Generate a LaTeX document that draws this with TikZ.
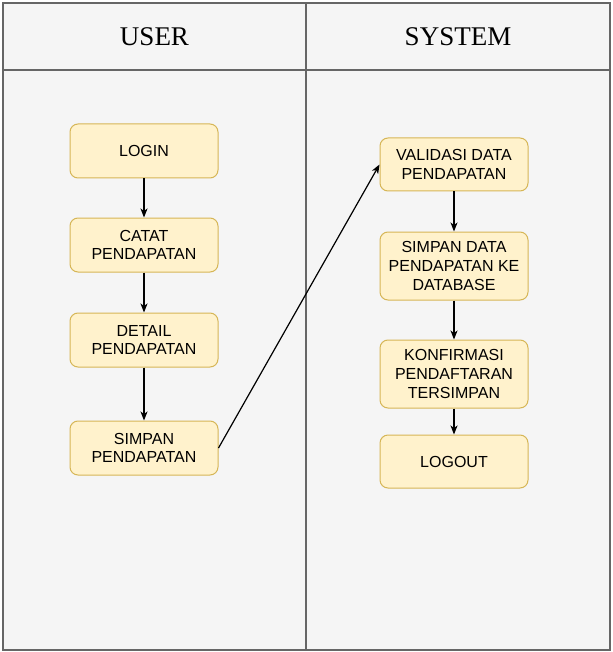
\documentclass[tikz,border=0pt]{standalone}
\usepackage{fontspec}
\setmainfont{Liberation Serif}
\newfontfamily\arialfont{Liberation Sans}
\usetikzlibrary{arrows.meta}
\definecolor{lanefill}{HTML}{F5F5F5}
\definecolor{laneline}{HTML}{666666}
\definecolor{boxfill}{HTML}{FFF2CC}
\definecolor{boxline}{HTML}{D6B656}
\tikzset{
  lane/.style={draw=laneline, fill=lanefill, line width=1.3pt},
  stepbox/.style={draw=boxline, fill=boxfill, line width=1pt, rounded corners=8pt,
    minimum width=148pt, inner sep=2pt, align=center,
    font=\arialfont\fontsize{16}{18.8}\selectfont, text=black},
  hdr/.style={font=\fontsize{27}{30}\selectfont, text=black},
  flow/.style={draw=black, line width=1.2pt, -{Stealth[length=9pt,width=7pt,inset=2.5pt]}},
}
\begin{document}
\begin{tikzpicture}[x=1pt,y=-1pt]
\useasboundingbox (0,0) rectangle (612,652);
\fill[white] (0,0) rectangle (612,652);
% lanes
\draw[lane] (3,3) rectangle (306,650);
\draw[lane] (306,3) rectangle (610,650);
\draw[laneline, line width=1.3pt] (3,70) -- (610,70);
\node[hdr] (huser) at (154.5,37) {USER};
\node[hdr] (hsys) at (458,37) {SYSTEM};
% user nodes
\node[stepbox, minimum height=54pt] (login) at (144,151) {LOGIN};
\node[stepbox, minimum height=54pt] (catat) at (144,245) {CATAT\\PENDAPATAN};
\node[stepbox, minimum height=54pt] (detail) at (144,340) {DETAIL\\PENDAPATAN};
\node[stepbox, minimum height=54pt] (simpan) at (144,448) {SIMPAN\\PENDAPATAN};
% system nodes
\node[stepbox, minimum height=53pt] (valid) at (454,164.5) {VALIDASI DATA\\PENDAPATAN};
\node[stepbox, minimum height=68pt] (simdb) at (454,266) {SIMPAN DATA\\PENDAPATAN KE\\DATABASE};
\node[stepbox, minimum height=68pt] (konf) at (454,374) {KONFIRMASI\\PENDAFTARAN\\TERSIMPAN};
\node[stepbox, minimum height=53pt] (logout) at (454,461.5) {LOGOUT};
% connectors
\draw[flow] (login) -- (catat);
\draw[flow] (catat) -- (detail);
\draw[flow] (detail) -- (simpan);
\draw[flow] (simpan.east) -- (valid.west);
\draw[flow] (valid) -- (simdb);
\draw[flow] (simdb) -- (konf);
\draw[flow] (konf) -- (logout);
\end{tikzpicture}
\end{document}
